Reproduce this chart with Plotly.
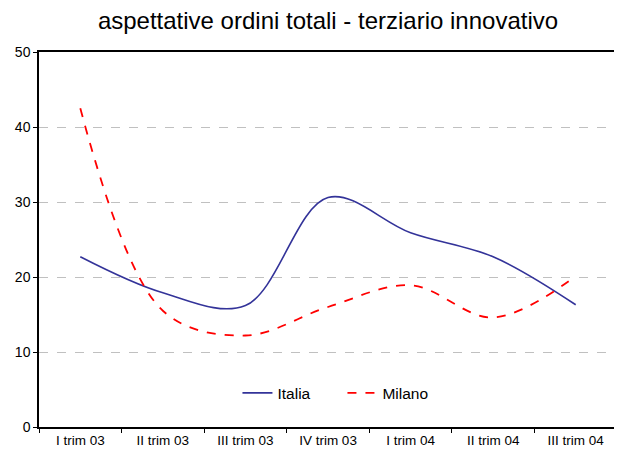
import plotly.graph_objects as go

categories = ["I trim 03", "II trim 03", "III trim 03", "IV trim 03", "I trim 04", "II trim 04", "III trim 04"]
italia = [22.7, 17.9, 16.2, 30.6, 25.9, 22.7, 16.3]
milano = [42.5, 15.5, 12.2, 16.0, 18.9, 14.6, 20.1]
y_ticks = [0, 10, 20, 30, 40, 50]

fig = go.Figure()
fig.add_trace(go.Scatter(x=categories, y=italia, name="Italia", mode="lines",
                         line=dict(color="#333399", width=1.6, shape="spline", smoothing=1.0)))
fig.add_trace(go.Scatter(x=categories, y=milano, name="Milano", mode="lines",
                         line=dict(color="#FF0000", width=1.8, shape="spline", smoothing=1.0, dash="dash")))

fig.update_layout(
    width=622, height=453,
    margin=dict(l=31, r=13, t=44, b=34, autoexpand=False),
    paper_bgcolor="white", plot_bgcolor="white",
    font=dict(family="Liberation Sans, Arial, sans-serif", color="black", size=12),
    title=dict(text="aspettative ordini totali - terziario innovativo", x=0.5, xanchor="center",
               xref="paper", y=0.973, yanchor="middle", font=dict(size=24, color="black")),
    showlegend=True,
    legend=dict(orientation="h", x=0.525, xanchor="center", y=0.09, yanchor="middle",
                bgcolor="rgba(0,0,0,0)", font=dict(size=15.5), entrywidth=60,
                entrywidthmode="pixels", tracegroupgap=0),
    xaxis=dict(type="category", range=[-0.5, 6.5], automargin=False,
               showline=True, linecolor="black", linewidth=1.5, mirror=True,
               ticks="outside", ticklen=4, tickcolor="black", tickson="boundaries",
               showgrid=False, tickfont=dict(size=13.5), fixedrange=True),
    yaxis=dict(range=[0, 50], tickvals=y_ticks, automargin=False,
               showline=True, linecolor="black", linewidth=1.5,
               mirror=True, ticks="outside", ticklen=4, tickcolor="black",
               showgrid=True, gridcolor="#C0C0C0", griddash="dash", gridwidth=1,
               zeroline=False, tickfont=dict(size=14)),
)

fig.write_html("out.html")
